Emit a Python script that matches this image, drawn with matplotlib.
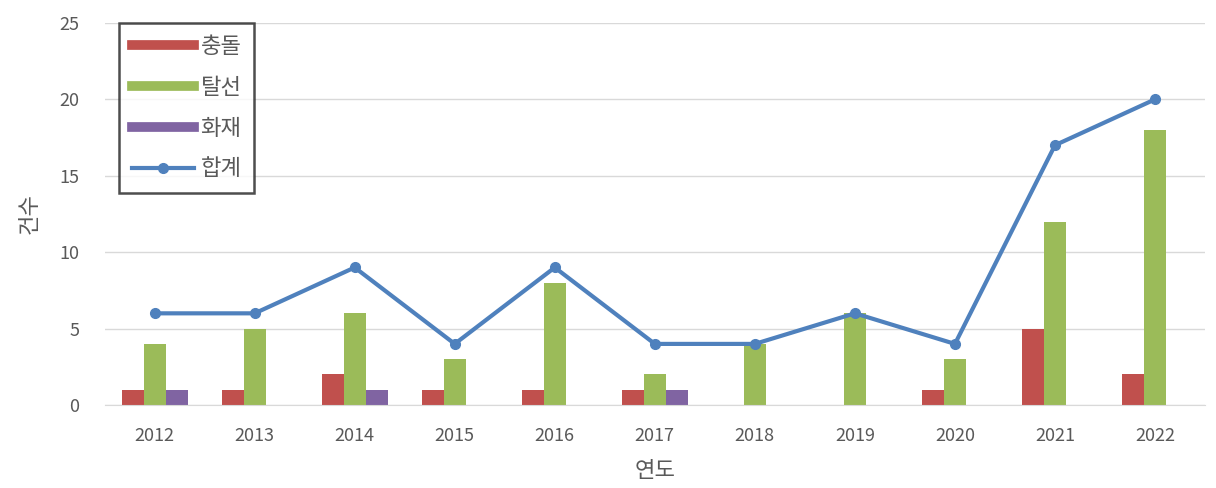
import numpy as np
import matplotlib.pyplot as plt
from matplotlib.lines import Line2D

plt.rcParams['font.family'] = ['Noto Sans CJK KR', 'DejaVu Sans']

years = ['2012', '2013', '2014', '2015', '2016', '2017', '2018', '2019', '2020', '2021', '2022']
collision = [1, 1, 2, 1, 1, 1, 0, 0, 1, 5, 2]       # 충돌
derailment = [4, 5, 6, 3, 8, 2, 4, 6, 3, 12, 18]    # 탈선
fire = [1, 0, 1, 0, 0, 1, 0, 0, 0, 0, 0]            # 화재
total = [6, 6, 9, 4, 9, 4, 4, 6, 4, 17, 20]         # 합계

RED = '#C0504D'
GREEN = '#9BBB59'
PURPLE = '#8064A2'
BLUE = '#4F81BD'
TEXT = '#595959'

x = np.arange(len(years))
w = 0.22

fig = plt.figure(figsize=(12.16, 4.88), dpi=100)
ax = fig.add_axes([0.086, 0.170, 0.905, 0.783])

ax.bar(x - w, collision, w, color=RED, zorder=2)
ax.bar(x, derailment, w, color=GREEN, zorder=2)
ax.bar(x + w, fire, w, color=PURPLE, zorder=2)
ax.plot(x, total, color=BLUE, lw=3, marker='o', ms=7, zorder=3)

ax.set_xlim(-0.5, len(years) - 0.5)
ax.set_ylim(0, 25)
ax.set_yticks([0, 5, 10, 15, 20, 25])
ax.set_xticks(x)
ax.set_xticklabels(years)
ax.yaxis.grid(True, color='#D9D9D9', lw=1, zorder=0)
ax.set_axisbelow(True)
for side in ['top', 'right', 'left']:
    ax.spines[side].set_visible(False)
ax.spines['bottom'].set_color('#D9D9D9')
ax.tick_params(axis='both', length=0, labelsize=13, colors=TEXT)
ax.tick_params(axis='x', pad=16)
ax.tick_params(axis='y', pad=18)

ax.set_xlabel('연도', fontsize=16, color=TEXT, labelpad=10)
ax.set_ylabel('건수', fontsize=16, color=TEXT, labelpad=14)

# bar series are shown as thick strokes in the legend
handles = [
    Line2D([0], [0], color=RED, lw=7),
    Line2D([0], [0], color=GREEN, lw=7),
    Line2D([0], [0], color=PURPLE, lw=7),
    Line2D([0], [0], color=BLUE, lw=3, marker='o', ms=7),
]
leg = ax.legend(handles, ['충돌', '탈선', '화재', '합계'], loc='upper left',
                bbox_to_anchor=(0.0135, 1.0), borderaxespad=0, fontsize=16,
                frameon=True, fancybox=False, handlelength=2.8,
                handletextpad=0.3, labelspacing=0.8, borderpad=0.55)
leg.get_frame().set_edgecolor('#222222')
leg.get_frame().set_linewidth(1.8)
for t in leg.get_texts():
    t.set_color(TEXT)

fig.savefig('out.png', dpi=100)
